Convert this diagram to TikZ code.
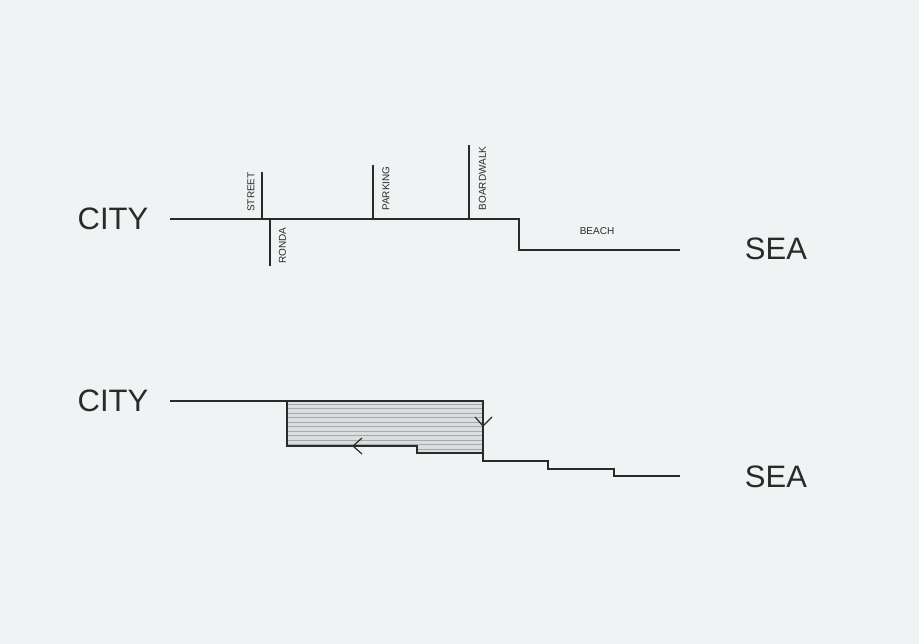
\documentclass[tikz,border=0pt]{standalone}
\usepackage{fontspec}
\setmainfont{Liberation Sans}
\definecolor{bg}{HTML}{EFF3F3}
\definecolor{ink}{HTML}{2A2A2A}
\definecolor{hatchfill}{HTML}{DADEDE}
\definecolor{hatchline}{HTML}{A4A9A9}
\begin{document}
\begin{tikzpicture}[x=1pt,y=-1pt,
  line/.style={draw=ink,line width=1.6pt,line join=miter},
  big/.style={font=\fontsize{31}{31}\selectfont,text=ink,inner sep=0pt},
  small/.style={font=\fontsize{10}{10}\selectfont,text=ink,inner sep=0pt},
  vlab/.style={small,rotate=90},
  tip/.style={draw=ink,line width=1.2pt}]
\fill[bg] (0,0) rectangle (919,644);
\useasboundingbox (0,0) rectangle (919,644);
% ---------- top diagram ----------
\node[big] (city1) at (113,219) {CITY};
\node[big] (sea1) at (776,249) {SEA};
\coordinate (t0) at (170,219);
\coordinate (tstreet) at (262,219);
\coordinate (tronda) at (270,219);
\coordinate (tpark) at (373,219);
\coordinate (tboard) at (469,219);
\coordinate (t1) at (519,219);
\coordinate (t2) at (519,250);
\coordinate (t3) at (680,250);
\coordinate (streettop) at (262,172);
\coordinate (rondabot) at (270,266);
\coordinate (parktop) at (373,165);
\coordinate (boardtop) at (469,145);
\draw[line] (t0) -- (t1) -- (t2) -- (t3);
\draw[line] (tstreet) -- (streettop);
\draw[line] (tronda) -- (rondabot);
\draw[line] (tpark) -- (parktop);
\draw[line] (tboard) -- (boardtop);
\node[vlab] (street) at (251,192) {STREET};
\node[vlab] (ronda) at (282.5,245.5) {RONDA};
\node[vlab] (parking) at (386,188.5) {PARKING};
\node[vlab] (boardwalk) at (482.5,178.5) {BOARDWALK};
\node[small] (beach) at (597,231.5) {BEACH};
% ---------- bottom diagram ----------
\node[big] (city2) at (113,401) {CITY};
\node[big] (sea2) at (776,477) {SEA};
\coordinate (b0) at (170,401);
\coordinate (r1) at (287,401);
\coordinate (r2) at (483,401);
\coordinate (r3) at (483,453);
\coordinate (r4) at (417,453);
\coordinate (r5) at (417,446);
\coordinate (r6) at (287,446);
\coordinate (s1) at (483,461);
\coordinate (s2) at (548,461);
\coordinate (s3) at (548,469);
\coordinate (s4) at (614,469);
\coordinate (s5) at (614,476);
\coordinate (s6) at (680,476);
\begin{scope}
  \clip (r1) -- (r2) -- (r3) -- (r4) -- (r5) -- (r6) -- cycle;
  \fill[hatchfill] (280,395) rectangle (490,460);
  \foreach \yy in {404,408.5,...,452}
    \draw[hatchline,line width=0.6pt] (285,\yy) -- (485,\yy);
\end{scope}
\draw[line] (b0) -- (r2) -- (s1) -- (s2) -- (s3) -- (s4) -- (s5) -- (s6);
\draw[line] (r1) -- (r6) -- (r5) -- (r4) -- (r3);
\coordinate (va) at (475,417);
\coordinate (vv) at (483,426);
\coordinate (vb) at (492,417);
\draw[tip] (va) -- (vv) -- (vb);
\coordinate (la) at (362,438);
\coordinate (lv) at (353,446);
\coordinate (lb) at (362,454);
\draw[tip] (la) -- (lv) -- (lb);
\end{tikzpicture}
\end{document}
